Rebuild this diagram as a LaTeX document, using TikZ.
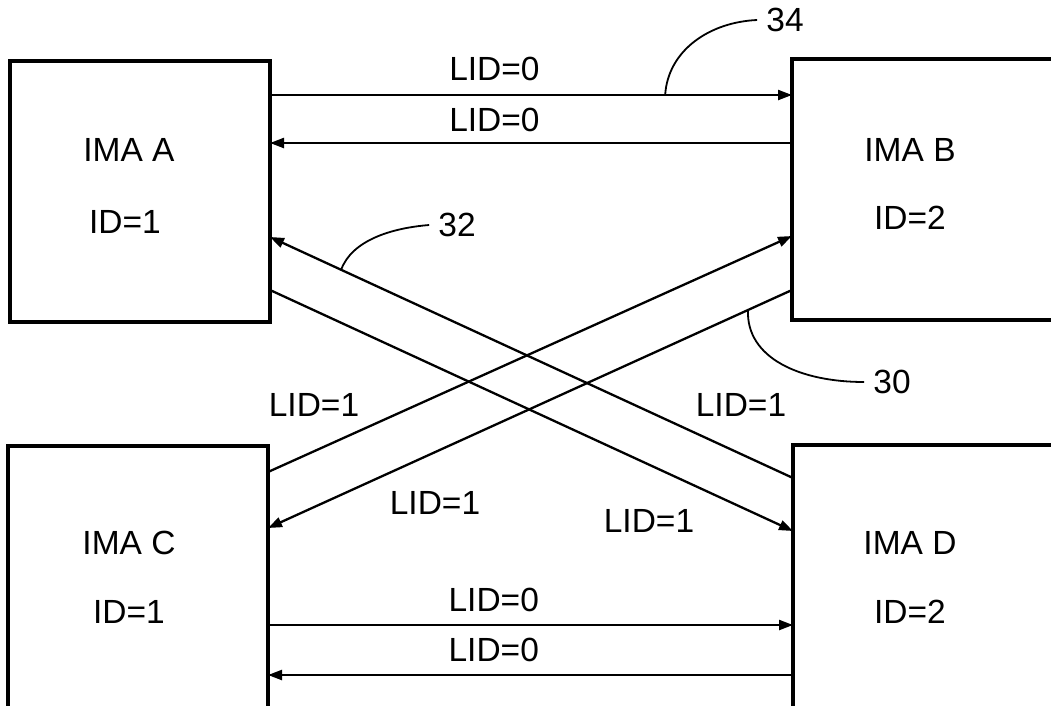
\documentclass[tikz,border=0pt]{standalone}
\usepackage{fontspec}
\setmainfont{Liberation Sans}
\usetikzlibrary{arrows.meta,positioning,calc}
\newcommand{\lsf}{\fontsize{33.5}{40}\selectfont}

\begin{document}
\begin{tikzpicture}[
  x=1pt, y=-1pt,
  imabox/.style={draw, line width=3.5pt, minimum height=261pt, inner sep=0pt, outer sep=0pt, anchor=north west},
  lbl/.style={font=\lsf, inner sep=0pt},
  refnum/.style={font=\lsf, inner sep=9pt},
  link/.style={-{Triangle[length=14pt,width=10pt]}, line width=2.3pt},
  leader/.style={line width=1.8pt},
]
\useasboundingbox (0,0) rectangle (1051,705);
\clip (0,0) rectangle (1051,705);

% IMA units
\node[imabox, minimum width=260pt] (A) at (10,61) {};
\node[imabox, minimum width=280pt] (B) at (792,59) {};
\node[imabox, minimum width=260pt, minimum height=280pt] (C) at (8,446) {};
\node[imabox, minimum width=280pt, minimum height=280pt] (D) at (793,445) {};

\node[lbl] (nameA) at (129,150) {IMA A};
\node[lbl] (idA) at (125,222) {ID=1};
\node[lbl] (nameB) at (910,150) {IMA B};
\node[lbl] (idB) at (910,218) {ID=2};
\node[lbl] (nameC) at (129,543) {IMA C};
\node[lbl] (idC) at (129,612) {ID=1};
\node[lbl] (nameD) at (910,543) {IMA D};
\node[lbl] (idD) at (910,612) {ID=2};

% A <-> B
\draw[link] ([yshift=-34pt]A.north east) -- node[lbl, above=13pt, pos=.43] (lidab) {LID=0}
  coordinate[pos=.757] (l34) ([yshift=-36pt]B.north west);
\draw[link] ([yshift=-84pt]B.north west) -- node[lbl, above=10pt, pos=.57] (lidba) {LID=0} ([yshift=-82pt]A.north east);

% C <-> D
\draw[link] ([yshift=-179pt]C.north east) -- node[lbl, above=12pt, pos=.43] (lidcd) {LID=0} ([yshift=-180pt]D.north west);
\draw[link] ([yshift=-230pt]D.north west) -- node[lbl, above=12pt, pos=.57] (liddc) {LID=0} ([yshift=-229pt]C.north east);

% crossing links
\draw[link] ([yshift=-229pt]A.north east) -- ([yshift=-86pt]D.north west);
\draw[link] ([yshift=-33pt]D.north west) -- coordinate[pos=.864] (l32) ([yshift=-176pt]A.north east);
\draw[link] ([yshift=-26pt]C.north east) -- ([yshift=-177pt]B.north west);
\draw[link] ([yshift=-231pt]B.north west) -- coordinate[pos=.084] (l30) ([yshift=-82pt]C.north east);

\node[lbl] (lidcb) at (314,405) {LID=1};
\node[lbl] (lidda) at (741,405) {LID=1};
\node[lbl] (lidbc) at (435,503) {LID=1};
\node[lbl] (lidad) at (649,521) {LID=1};

% reference numerals
\node[refnum] (n34) at (785,20) {34};
\node[refnum] (n32) at (457,225) {32};
\node[refnum] (n30) at (892,382) {30};
\draw[leader] (l34) .. controls (668,50) and (710,22) .. (n34.west);
\draw[leader] (l32) .. controls (352,240) and (392,228) .. (n32.west);
\draw[leader] (l30) .. controls (746,358) and (800,382) .. (n30.west);

\end{tikzpicture}
\end{document}
